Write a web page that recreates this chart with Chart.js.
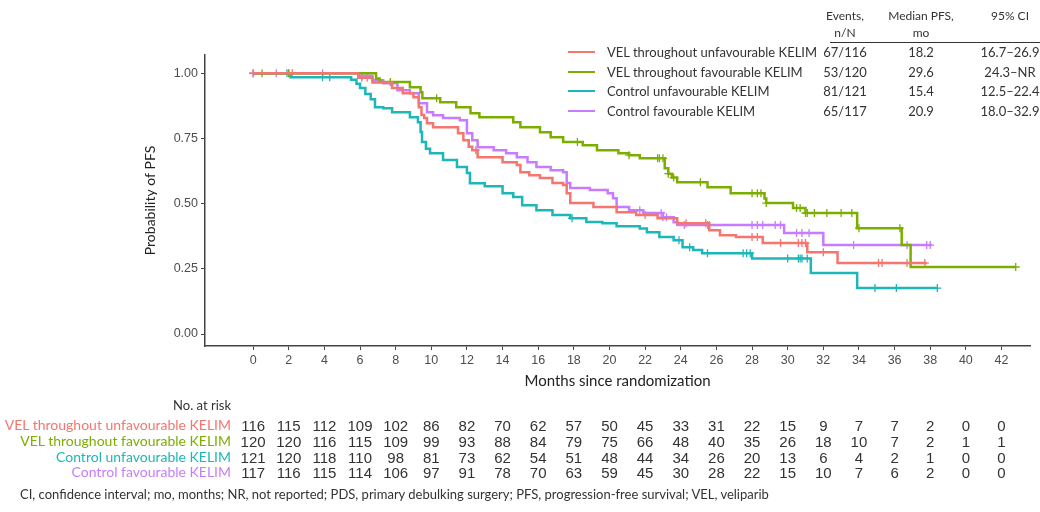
<!DOCTYPE html>
<html>
<head>
<meta charset="utf-8">
<script src="https://cdn.jsdelivr.net/npm/chart.js@4.4.0/dist/chart.umd.min.js"></script>
<style>
    body { margin: 0; background: #fff; }
    #wrap { position: relative; width: 1040px; height: 512px; overflow: hidden; font-family: Lato, sans-serif; color: #222; }
    canvas { position: absolute; left: 0; top: 0; }
    .t { position: absolute; white-space: nowrap; line-height: 1; }
</style>
</head>
<body>
<div id="wrap"><canvas id="km" width="1040" height="512"></canvas></div>
<script>
// series names and summary table
const seriesNames = ['VEL throughout unfavourable KELIM', 'VEL throughout favourable KELIM', 'Control unfavourable KELIM', 'Control favourable KELIM'];
const seriesColors = ['#F4766E', '#7CAE00', '#1DB6B9', '#C77CFF'];
const eventsN = ['67/116', '53/120', '81/121', '65/117'];
const medianPfs = ['18.2', '29.6', '15.4', '20.9'];
const ci95 = ['16.7\u201326.9', '24.3\u2013NR', '12.5\u201322.4', '18.0\u201332.9'];

// KM steps: time (months) where the curve drops, and survival after the drop
const velUnfavT = [0, 5.9, 6.7, 7.8, 8.4, 9.0, 9.3, 9.45, 9.6, 9.76, 10.1, 11.5, 11.8, 12.1, 12.3, 12.6, 14.0, 14.8, 15.0, 15.5, 16.1, 16.8, 17.4, 17.6, 17.8, 19.1, 20.4, 21.5, 22.7, 23.8, 25.6, 26.2, 27.1, 28.6, 31.1, 32.8, 37.8];
const velUnfavS = [1, 0.983, 0.965, 0.943, 0.923, 0.908, 0.87, 0.84, 0.828, 0.808, 0.793, 0.77, 0.743, 0.718, 0.705, 0.678, 0.659, 0.648, 0.62, 0.609, 0.598, 0.579, 0.571, 0.54, 0.502, 0.487, 0.467, 0.456, 0.444, 0.425, 0.398, 0.379, 0.372, 0.349, 0.314, 0.272, 0.272];
const velUnfavCens = [0, 2.2, 6.1, 6.4, 12.5, 22.0, 24.3, 25.4, 28.0, 28.3, 29.6, 30.6, 30.8, 31.0, 32.0, 35.1, 35.3, 36.7, 37.7];

const velFavT = [0, 6.9, 7.1, 8.8, 9.4, 9.5, 10.5, 11.4, 12.2, 12.7, 14.6, 15.0, 16.1, 16.7, 17.4, 18.5, 19.3, 20.5, 21.1, 21.7, 23.1, 23.3, 23.5, 23.8, 25.5, 26.8, 28.7, 28.8, 30.3, 31.0, 33.9, 36.4, 36.9, 42.8];
const velFavS = [1, 0.98, 0.966, 0.946, 0.927, 0.904, 0.889, 0.87, 0.847, 0.831, 0.812, 0.793, 0.774, 0.755, 0.736, 0.724, 0.705, 0.693, 0.686, 0.674, 0.636, 0.615, 0.6, 0.582, 0.563, 0.54, 0.52, 0.502, 0.483, 0.464, 0.406, 0.341, 0.257, 0.257];
const velFavCens = [0.5, 2.0, 7.7, 10.3, 18.2, 21.1, 22.7, 22.8, 23.0, 23.3, 23.6, 25.1, 28.0, 28.3, 28.5, 28.8, 30.5, 30.7, 31.0, 31.1, 31.5, 32.2, 33.0, 33.6, 34.0, 36.3, 42.8];

const ctrlUnfavT = [0, 2.1, 5.5, 5.8, 6.0, 6.3, 6.6, 6.84, 7.3, 7.8, 8.8, 9.25, 9.4, 9.48, 9.7, 9.93, 10.66, 11.44, 12.0, 12.17, 13.0, 14.0, 14.6, 15.1, 15.9, 16.8, 17.8, 18.7, 19.6, 20.4, 21.7, 22.1, 22.8, 23.6, 24.1, 24.7, 25.2, 28.0, 31.3, 33.9, 38.4];
const ctrlUnfavS = [1, 0.985, 0.975, 0.96, 0.943, 0.92, 0.9, 0.87, 0.866, 0.85, 0.831, 0.812, 0.775, 0.736, 0.71, 0.693, 0.667, 0.64, 0.617, 0.578, 0.567, 0.54, 0.525, 0.494, 0.475, 0.456, 0.444, 0.43, 0.425, 0.413, 0.405, 0.39, 0.372, 0.36, 0.333, 0.322, 0.31, 0.29, 0.234, 0.176, 0.176];
const ctrlUnfavCens = [1.9, 3.9, 4.3, 17.9, 23.9, 24.5, 25.5, 27.5, 27.7, 27.9, 30.0, 30.6, 30.7, 30.8, 31.1, 34.9, 36.1, 38.4];

const ctrlFavT = [0, 5.9, 6.7, 7.3, 8.1, 8.8, 9.3, 9.76, 10.1, 10.66, 11.6, 12.0, 12.3, 12.6, 13.5, 14.2, 14.8, 15.4, 15.9, 16.7, 17.4, 17.6, 17.8, 18.9, 19.9, 20.2, 20.4, 21.1, 21.9, 23.0, 23.6, 23.8, 29.8, 32.0, 38.1];
const ctrlFavS = [1, 0.99, 0.973, 0.962, 0.935, 0.923, 0.885, 0.85, 0.839, 0.828, 0.82, 0.77, 0.743, 0.716, 0.705, 0.693, 0.678, 0.659, 0.64, 0.628, 0.62, 0.579, 0.56, 0.552, 0.54, 0.521, 0.487, 0.475, 0.464, 0.448, 0.429, 0.418, 0.387, 0.341, 0.341];
const ctrlFavCens = [0, 1.3, 2.0, 3.9, 6.1, 21.7, 22.9, 23.0, 23.2, 24.2, 25.5, 25.6, 28.0, 28.3, 28.6, 29.3, 29.6, 30.5, 30.8, 31.2, 33.7, 36.7, 37.8, 38.0];

// number at risk table
const riskTimes = [0, 2, 4, 6, 8, 10, 12, 14, 16, 18, 20, 22, 24, 26, 28, 30, 32, 34, 36, 38, 40, 42];
const riskVelUnfav = [116, 115, 112, 109, 102, 86, 82, 70, 62, 57, 50, 45, 33, 31, 22, 15, 9, 7, 7, 2, 0, 0];
const riskVelFav = [120, 120, 116, 115, 109, 99, 93, 88, 84, 79, 75, 66, 48, 40, 35, 26, 18, 10, 7, 2, 1, 1];
const riskCtrlUnfav = [121, 120, 118, 110, 98, 81, 73, 62, 54, 51, 48, 44, 34, 26, 20, 13, 6, 4, 2, 1, 0, 0];
const riskCtrlFav = [117, 116, 115, 114, 106, 97, 91, 78, 70, 63, 59, 45, 30, 28, 22, 15, 10, 7, 6, 2, 0, 0];

const xTicks = riskTimes;
const yTicks = [0, 0.25, 0.5, 0.75, 1];

const curves = [
    { t: velUnfavT, s: velUnfavS, c: velUnfavCens, risk: riskVelUnfav },
    { t: velFavT, s: velFavS, c: velFavCens, risk: riskVelFav },
    { t: ctrlUnfavT, s: ctrlUnfavS, c: ctrlUnfavCens, risk: riskCtrlUnfav },
    { t: ctrlFavT, s: ctrlFavS, c: ctrlFavCens, risk: riskCtrlFav }
];

function survAt(t, s, time) {
    let v = s[0];
    for (let i = 0; i < t.length; i++) {
        if (t[i] <= time) v = s[i];
    }
    return v;
}

const datasets = [];
curves.forEach((cv, i) => {
    datasets.push({
        data: cv.t.map((x, j) => ({ x: x, y: cv.s[j] })),
        borderColor: seriesColors[i],
        borderWidth: 2.5,
        stepped: true,
        pointRadius: 0,
        fill: false
    });
});
// censoring marks
curves.forEach((cv, i) => {
    datasets.push({
        data: cv.c.map(x => ({ x: x, y: survAt(cv.t, cv.s, x) })),
        showLine: false,
        borderColor: seriesColors[i],
        pointStyle: 'cross',
        pointRadius: 4,
        pointBorderWidth: 1.3
    });
});

const axisGrey = '#444';

const chart = new Chart(document.getElementById('km'), {
    type: 'line',
    data: { datasets: datasets },
    options: {
        responsive: false,
        animation: false,
        layout: { padding: { left: 142, top: 55, right: 10, bottom: 122 } },
        plugins: { legend: { display: false }, tooltip: { enabled: false } },
        scales: {
            x: {
                type: 'linear',
                min: -2.7,
                max: 43.6,
                afterBuildTicks: (sc) => { sc.ticks = xTicks.map(v => ({ value: v })); },
                afterFit: (sc) => { sc.height = 44; },
                grid: { drawOnChartArea: false, drawTicks: true, tickLength: 4, color: axisGrey },
                border: { display: true, color: axisGrey, width: 1.5 },
                ticks: { color: '#4D4D4D', font: { family: 'Liberation Sans', size: 12.5 }, padding: 3, maxRotation: 0, autoSkip: false },
                title: { display: true, text: 'Months since randomization', color: '#222', font: { family: 'Lato', size: 15 }, padding: 0 }
            },
            y: {
                type: 'linear',
                min: -0.046,
                max: 1.07,
                afterBuildTicks: (sc) => { sc.ticks = yTicks.map(v => ({ value: v })); },
                afterFit: (sc) => { sc.width = 63; },
                grid: { drawOnChartArea: false, drawTicks: true, tickLength: 4, color: axisGrey },
                border: { display: true, color: axisGrey, width: 1.5 },
                ticks: { color: '#4D4D4D', font: { family: 'Liberation Sans', size: 12.5 }, padding: 3, callback: (v) => v.toFixed(2) },
                title: { display: true, text: 'Probability of PFS', color: '#222', font: { family: 'Lato', size: 14 }, padding: 0 }
            }
        }
    }
});

// text overlays
const wrap = document.getElementById('wrap');
function place(text, x, y, opts) {
    opts = opts || {};
    const el = document.createElement('div');
    el.className = 't';
    el.textContent = text;
    el.style.left = x + 'px';
    el.style.top = y + 'px';
    el.style.fontSize = (opts.size || 13) + 'px';
    if (opts.family) el.style.fontFamily = opts.family;
    if (opts.color) el.style.color = opts.color;
    if (opts.weight) el.style.fontWeight = opts.weight;
    const tx = opts.align === 'center' ? '-50%' : opts.align === 'right' ? '-100%' : '0';
    el.style.transform = 'translate(' + tx + ', -50%)';
    wrap.appendChild(el);
    return el;
}

// summary legend
place('Events,', 845, 16, { align: 'center', size: 12, color: '#333' });
place('n/N', 845, 33, { align: 'center', size: 12, color: '#333' });
place('Median PFS,', 921, 16, { align: 'center', size: 12, color: '#333' });
place('mo', 921, 33, { align: 'center', size: 12, color: '#333' });
place('95% CI', 1010, 16, { align: 'center', size: 12, color: '#333' });
const rule = document.createElement('div');
rule.style.cssText = 'position:absolute;left:830px;top:42px;width:210px;height:1px;background:#333;';
wrap.appendChild(rule);

const legendY = [52, 72, 91, 111];
seriesNames.forEach((name, i) => {
    const sw = document.createElement('div');
    sw.style.cssText = 'position:absolute;left:568px;width:27px;height:2px;background:' + seriesColors[i] + ';top:' + (legendY[i] - 1) + 'px;';
    wrap.appendChild(sw);
    place(name, 607, legendY[i], { size: 13, color: '#333' });
    place(eventsN[i], 845, legendY[i], { align: 'center', size: 13, color: '#333' });
    place(medianPfs[i], 921, legendY[i], { align: 'center', size: 13, color: '#333' });
    place(ci95[i], 1010, legendY[i], { align: 'center', size: 13, color: '#333' });
});

// number at risk
place('No. at risk', 231, 405, { align: 'right', size: 13, color: '#333' });
const riskY = [425, 441, 457, 472];
const xs = chart.scales.x;
curves.forEach((cv, i) => {
    place(seriesNames[i], 231, riskY[i], { align: 'right', size: 14, color: seriesColors[i] });
    cv.risk.forEach((n, j) => {
        place(String(n), xs.getPixelForValue(riskTimes[j]), riskY[i], { align: 'center', size: 15, family: 'Liberation Sans', color: '#333' });
    });
});

place('CI, confidence interval; mo, months; NR, not reported; PDS, primary debulking surgery; PFS, progression-free survival; VEL, veliparib', 20, 494, { size: 13, color: '#333' });
</script>
</body>
</html>
